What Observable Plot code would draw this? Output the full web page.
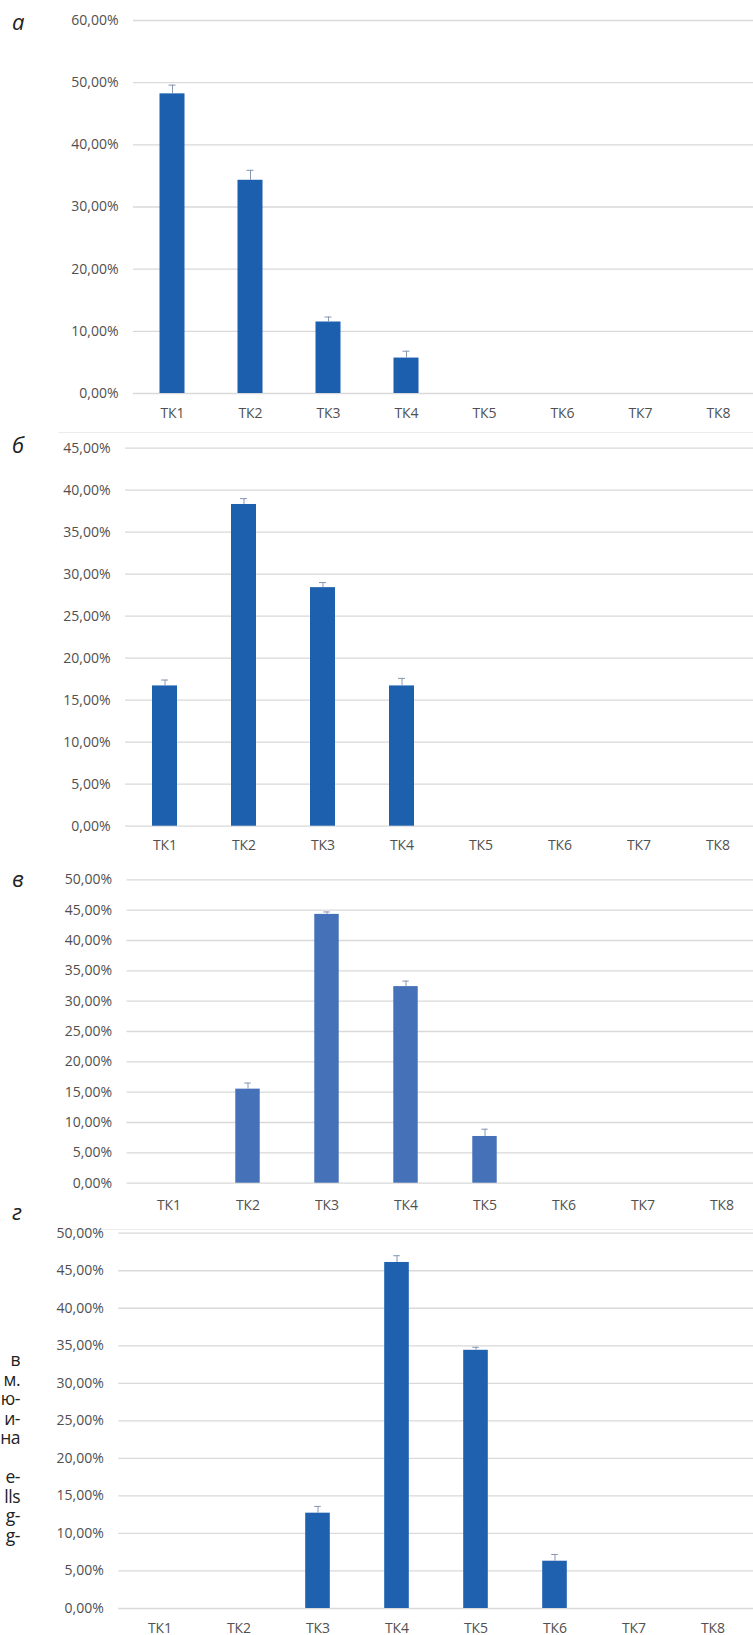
<!DOCTYPE html>
<html>
<head>
<meta charset="utf-8">
<script src="https://cdn.jsdelivr.net/npm/d3@7"></script>
<script src="https://cdn.jsdelivr.net/npm/@observablehq/plot@0.6"></script>
<style>
  html, body { margin: 0; padding: 0; background: #fff; }
  body { position: relative; width: 753px; height: 1635px; overflow: hidden; font-family: "Open Sans", sans-serif; }
  .panel { position: absolute; left: 0; }
  .panel svg { display: block; overflow: visible; }
  .letter { position: absolute; left: 12px; font-family: "Open Sans", sans-serif; font-style: italic; font-size: 22px; line-height: 22px; color: #222; }
  .sep { position: absolute; height: 0; border-top: 1px solid #ececec; }
  .sidetext { position: absolute; left: 0; width: 20px; top: 1350px; text-align: right; font-size: 17.5px; letter-spacing: -0.5px; line-height: 19.5px; color: #222; white-space: pre; }
</style>
</head>
<body>
<div class="letter" style="top:10px">а</div>
<div class="letter" style="top:433px">б</div>
<div class="letter" style="top:867px">в</div>
<div class="letter" style="top:1200px">г</div>
<div class="sep" style="left:58px; right:0; top:432px"></div>
<div class="sep" style="left:58px; right:0; top:1229px"></div>
<div class="sidetext" id="side"></div>
<div class="panel" id="pa" style="top:0px"></div>
<div class="panel" id="pb" style="top:432px"></div>
<div class="panel" id="pc" style="top:865px"></div>
<div class="panel" id="pd" style="top:1222px"></div>
<script>
// Categories shared by all four panels
const categories = ["ТК1", "ТК2", "ТК3", "ТК4", "ТК5", "ТК6", "ТК7", "ТК8"];

// Shares (%) per category and the upper error bar (% above the bar)
const valuesA = [48.2, 34.3, 11.5, 5.7, 0, 0, 0, 0];
const errorsA = [1.4, 1.6, 0.8, 1.1, 0, 0, 0, 0];

const valuesB = [16.7, 38.3, 28.4, 16.7, 0, 0, 0, 0];
const errorsB = [0.7, 0.7, 0.6, 0.9, 0, 0, 0, 0];

const valuesC = [0, 15.5, 44.3, 32.4, 7.7, 0, 0, 0];
const errorsC = [0, 1.0, 0.4, 0.9, 1.2, 0, 0, 0];

const valuesD = [0, 0, 12.7, 46.1, 34.4, 6.3, 0, 0];
const errorsD = [0, 0, 0.9, 0.9, 0.4, 0.9, 0, 0];

// Y-axis ticks (%)
const ticksA = [0, 10, 20, 30, 40, 50, 60];
const ticksB = [0, 5, 10, 15, 20, 25, 30, 35, 40, 45];
const ticksC = [0, 5, 10, 15, 20, 25, 30, 35, 40, 45, 50];
const ticksD = [0, 5, 10, 15, 20, 25, 30, 35, 40, 45, 50];

// Fragments of the neighbouring text column at the page edge
const sideLines = ["в", "м.", "ю-", "и-", "на", "", "е-", "lls", "g-", "g-"];

const ru = d3.formatLocale({decimal: ",", thousands: "\u00a0", grouping: [3], currency: ["", " ₽"]});
const pct = ru.format(".2%");

function panel({values, errors, ticks, color, height, marginTop, marginBottom, x0, x1, xPad}) {
  const rows = categories.map((c, i) => ({cat: c, v: values[i] / 100, e: errors[i] / 100}));
  const shown = rows.filter(d => d.v > 0);
  const band = (x1 - x0) / categories.length;
  const barInset = (band - 25) / 2;
  const capInset = (band - 7) / 2;
  return Plot.plot({
    width: 753,
    height,
    marginTop,
    marginBottom,
    marginLeft: x0,
    marginRight: 0,
    style: {fontFamily: "'Open Sans', sans-serif", fontSize: "14px", color: "#505050", background: "transparent", overflow: "visible"},
    x: {domain: categories, range: [x0, x1], padding: 0, label: null, tickSize: 0, tickPadding: xPad},
    y: {domain: [0, ticks[ticks.length - 1] / 100], ticks: ticks.map(t => t / 100), tickFormat: pct, label: null, tickSize: 0, tickPadding: 15},
    marks: [
      Plot.ruleY(ticks.map(t => t / 100), {stroke: "#d9d9d9", strokeWidth: 1.3}),
      Plot.barY(shown, {x: "cat", y: "v", fill: color, insetLeft: barInset, insetRight: barInset}),
      Plot.ruleX(shown, {x: "cat", y1: "v", y2: d => d.v + d.e, stroke: "#8596b3", strokeWidth: 1}),
      Plot.tickY(shown, {x: "cat", y: d => d.v + d.e, stroke: "#8596b3", strokeWidth: 1, insetLeft: capInset, insetRight: capInset})
    ]
  });
}

document.getElementById("pa").append(panel({
  values: valuesA, errors: errorsA, ticks: ticksA, color: "#1b5fae",
  height: 432, marginTop: 20, marginBottom: 39, x0: 133, x1: 757, xPad: 14.5
}));
document.getElementById("pb").append(panel({
  values: valuesB, errors: errorsB, ticks: ticksB, color: "#1d60ae",
  height: 433, marginTop: 15.7, marginBottom: 39.3, x0: 125, x1: 757, xPad: 14
}));
document.getElementById("pc").append(panel({
  values: valuesC, errors: errorsC, ticks: ticksC, color: "#4571b8",
  height: 357, marginTop: 14.3, marginBottom: 39.3, x0: 126.5, x1: 763, xPad: 17
}));
document.getElementById("pd").append(panel({
  values: valuesD, errors: errorsD, ticks: ticksD, color: "#1f61ae",
  height: 413, marginTop: 10.7, marginBottom: 27, x0: 118.3, x1: 753.5, xPad: 14.5
}));

document.getElementById("side").textContent = sideLines.join("\n");
</script>
</body>
</html>
